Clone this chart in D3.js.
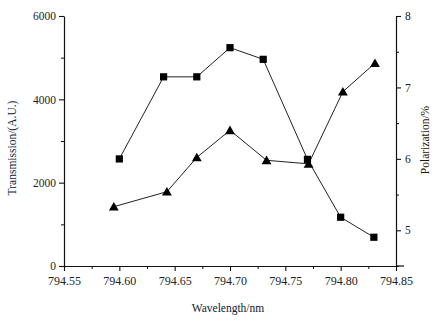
<!DOCTYPE html>
<html>
<head>
<meta charset="utf-8">
<script src="https://cdn.jsdelivr.net/npm/d3@7"></script>
<style>
  html, body { margin: 0; padding: 0; background: #fff; }
  svg text { font-family: "Liberation Serif", "DejaVu Serif", serif; fill: #111; }
</style>
</head>
<body>
<div id="chart"></div>
<script>
// Transmission (squares, left axis) and polarization (triangles, right axis) vs wavelength.

const WL_SQUARES   = [794.60, 794.64, 794.67, 794.70, 794.73, 794.77, 794.80, 794.83];
const TRANSMISSION = [2570, 4540, 4540, 5240, 4960, 2560, 1170, 690];

const WL_TRIANGLES = [794.595, 794.643, 794.67, 794.70, 794.733, 794.771, 794.802, 794.831];
const POLARIZATION = [5.33, 5.54, 6.02, 6.40, 5.98, 5.93, 6.94, 7.34];

const X_TICKS      = [794.55, 794.60, 794.65, 794.70, 794.75, 794.80, 794.85];
const X_MINOR      = [794.575, 794.625, 794.675, 794.725, 794.775, 794.825];
const YL_TICKS     = [0, 2000, 4000, 6000];
const YL_MINOR     = [1000, 3000, 5000];
const YR_TICKS     = [5, 6, 7, 8];
const YR_MINOR     = [4.5, 5.5, 6.5, 7.5];

const W = 440, H = 325;
const margin = { top: 16, right: 44, bottom: 59, left: 64 };
const innerW = W - margin.left - margin.right;
const innerH = H - margin.top - margin.bottom;

const svg = d3.select("#chart").append("svg")
  .attr("width", W)
  .attr("height", H);

const g = svg.append("g")
  .attr("transform", `translate(${margin.left},${margin.top})`);

// ── Scales ──────────────────────────────────────────────────────────────────

const x  = d3.scaleLinear().domain([794.55, 794.85]).range([0, innerW]);
const yL = d3.scaleLinear().domain([0, 6000]).range([innerH, 0]);
const yR = d3.scaleLinear().domain([4.5, 8]).range([innerH, 0]);

// ── Axes ────────────────────────────────────────────────────────────────────

function styleAxis(ax, size) {
  ax.select(".domain").attr("stroke", "#111").attr("stroke-width", 1.2);
  ax.selectAll(".tick line").attr("stroke", "#111").attr("stroke-width", 1.1);
  ax.selectAll("text").style("font-size", size).style("fill", "#222");
}

g.append("g")
  .attr("transform", `translate(0,${innerH})`)
  .call(d3.axisBottom(x).tickValues(X_MINOR).tickSize(3).tickFormat(""))
  .call(ax => ax.select(".domain").remove())
  .call(ax => ax.selectAll(".tick line").attr("stroke", "#111"));

g.append("g")
  .attr("transform", `translate(0,${innerH})`)
  .call(d3.axisBottom(x).tickValues(X_TICKS).tickSize(5).tickSizeOuter(0).tickPadding(5)
    .tickFormat(d3.format(".2f")))
  .call(ax => styleAxis(ax, "12px"));

g.append("line")
  .attr("x1", innerW).attr("x2", innerW + 8)
  .attr("y1", innerH).attr("y2", innerH)
  .attr("stroke", "#111").attr("stroke-width", 1.2);

g.append("g")
  .call(d3.axisLeft(yL).tickValues(YL_MINOR).tickSize(3).tickFormat(""))
  .call(ax => ax.select(".domain").remove())
  .call(ax => ax.selectAll(".tick line").attr("stroke", "#111"));

g.append("g")
  .call(d3.axisLeft(yL).tickValues(YL_TICKS).tickSize(5).tickSizeOuter(0).tickPadding(3)
    .tickFormat(d3.format("d")))
  .call(ax => styleAxis(ax, "11.5px"));

g.append("g")
  .attr("transform", `translate(${innerW},0)`)
  .call(d3.axisRight(yR).tickValues(YR_MINOR).tickSize(3).tickFormat(""))
  .call(ax => ax.select(".domain").remove())
  .call(ax => ax.selectAll(".tick line").attr("stroke", "#111"));

g.append("g")
  .attr("transform", `translate(${innerW},0)`)
  .call(d3.axisRight(yR).tickValues(YR_TICKS).tickSize(5).tickSizeOuter(0).tickPadding(4)
    .tickFormat(d3.format("d")))
  .call(ax => styleAxis(ax, "11.5px"));

// ── Titles ──────────────────────────────────────────────────────────────────

svg.append("text")
  .attr("x", margin.left + innerW / 2 - 2)
  .attr("y", 312)
  .attr("text-anchor", "middle")
  .style("font-size", "11.5px")
  .style("fill", "#0d1a33")
  .text("Wavelength/nm");

svg.append("text")
  .attr("transform", "rotate(-90)")
  .attr("x", -148)
  .attr("y", 16)
  .attr("text-anchor", "middle")
  .style("font-size", "11.5px")
  .style("fill", "#0d1a33")
  .text("Transmission/(A.U.)");

svg.append("text")
  .attr("transform", "rotate(-90)")
  .attr("x", -140)
  .attr("y", 429)
  .attr("text-anchor", "middle")
  .style("font-size", "11.5px")
  .style("fill", "#1a1408")
  .text("Polarization/%");

// ── Series ──────────────────────────────────────────────────────────────────

const squares   = WL_SQUARES.map((w, i) => ({ w, v: TRANSMISSION[i] }));
const triangles = WL_TRIANGLES.map((w, i) => ({ w, v: POLARIZATION[i] }));

g.append("path")
  .datum(squares)
  .attr("fill", "none")
  .attr("stroke", "#222")
  .attr("stroke-width", 1)
  .attr("d", d3.line().x(d => x(d.w)).y(d => yL(d.v)));

g.append("path")
  .datum(triangles)
  .attr("fill", "none")
  .attr("stroke", "#222")
  .attr("stroke-width", 1)
  .attr("d", d3.line().x(d => x(d.w)).y(d => yR(d.v)));

g.selectAll(".sq")
  .data(squares)
  .join("path")
    .attr("class", "sq")
    .attr("transform", d => `translate(${x(d.w)},${yL(d.v)})`)
    .attr("d", d3.symbol(d3.symbolSquare, 52))
    .attr("fill", "#000");

g.selectAll(".tri")
  .data(triangles)
  .join("path")
    .attr("class", "tri")
    .attr("transform", d => `translate(${x(d.w)},${yR(d.v) + 1})`)
    .attr("d", d3.symbol(d3.symbolTriangle, 42))
    .attr("fill", "#000");
</script>
</body>
</html>
